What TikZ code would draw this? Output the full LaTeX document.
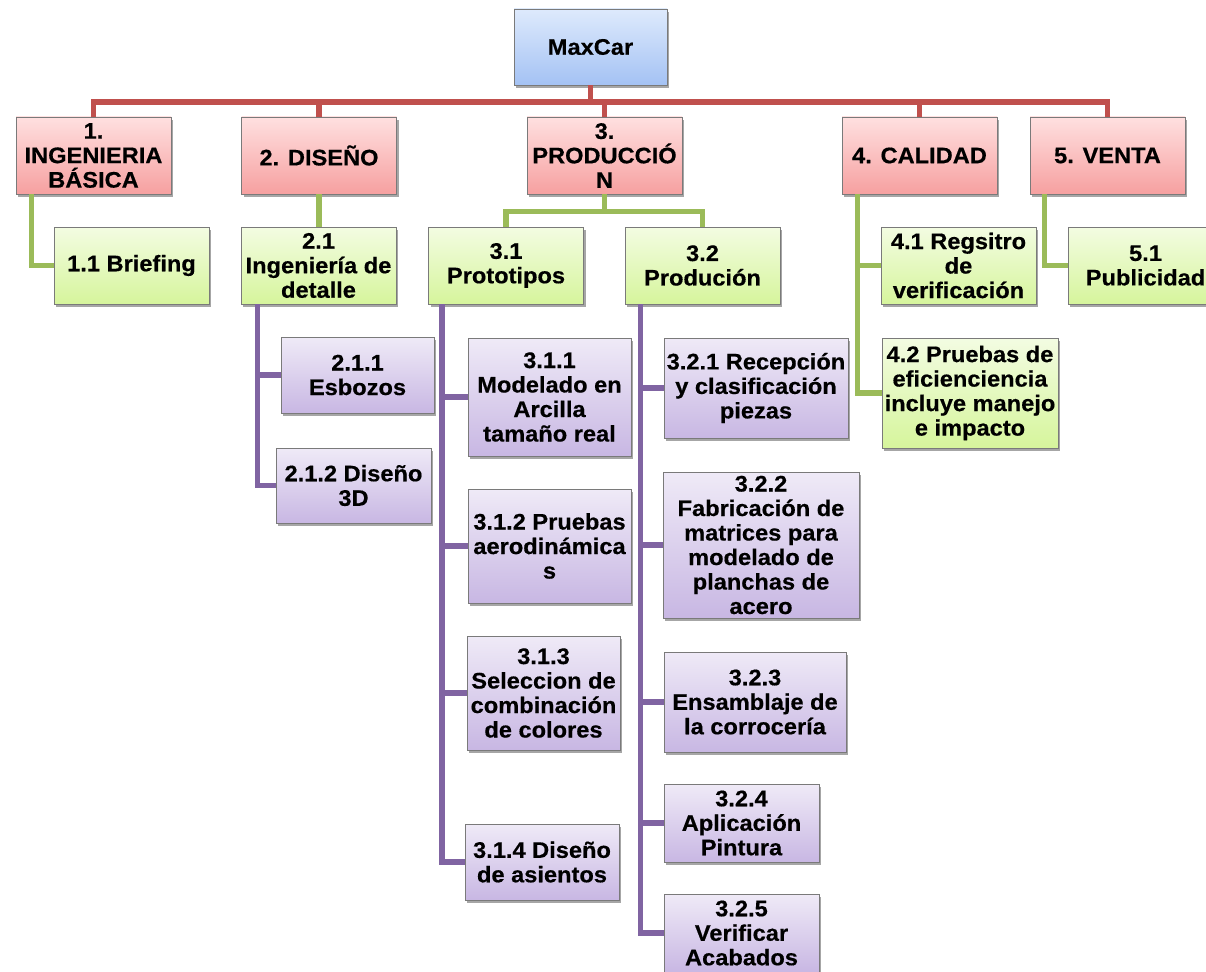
\documentclass[tikz,border=0pt]{standalone}
\usepackage{fontspec}
\setmainfont{Liberation Sans}[FakeStretch=1.05, BoldFeatures={FakeBold=0.5}]
\usetikzlibrary{shadows}
\definecolor{redln}{HTML}{C0504D}
\definecolor{greenln}{HTML}{9BBB59}
\definecolor{purpleln}{HTML}{8064A2}
\definecolor{redtop}{HTML}{FFE0E0}
\definecolor{redbot}{HTML}{F6A0A0}
\definecolor{greentop}{HTML}{F3FCE2}
\definecolor{greenbot}{HTML}{D6F59C}
\definecolor{purtop}{HTML}{EFEAF7}
\definecolor{purbot}{HTML}{C8B7E3}
\definecolor{bluetop}{HTML}{DEEAFC}
\definecolor{bluebot}{HTML}{A4C2F4}
\definecolor{boxedge}{HTML}{7A7A7A}
\tikzset{
  box/.style={rectangle, draw=boxedge, line width=0.8pt, inner sep=0pt, align=center,
    font=\fontsize{22.5}{24.5}\selectfont\bfseries,
    drop shadow={shadow xshift=2pt, shadow yshift=-3pt, opacity=0.35, fill=black}},
  bluebox/.style={box, top color=bluetop, bottom color=bluebot},
  redbox/.style={box, top color=redtop, bottom color=redbot},
  greenbox/.style={box, top color=greentop, bottom color=greenbot},
  purbox/.style={box, top color=purtop, bottom color=purbot},
  redline/.style={draw=redln, line width=5.5pt},
  greenline/.style={draw=greenln, line width=5.5pt},
  purline/.style={draw=purpleln, line width=5.5pt},
}
\begin{document}
\begin{tikzpicture}[x=1pt,y=-1pt]
\useasboundingbox (0,0) rectangle (1206,971);
\clip (0,0) rectangle (1206,971);
\fill[white] (0,0) rectangle (1206,971);

% root
\node[bluebox, minimum width=153pt, minimum height=76pt] (root) at (590.5,47) {MaxCar};

% level 1
\node[redbox, minimum width=155pt, minimum height=77pt] (n1) at (93.5,155.5) {1.\\INGENIERIA\\BÁSICA};
\node[redbox, minimum width=155pt, minimum height=77pt] (n2) at (319,155.5) {2. DISEÑO};
\node[redbox, minimum width=155pt, minimum height=77pt] (n3) at (604.5,155.5) {3.\\PRODUCCIÓ\\N};
\node[redbox, minimum width=155pt, minimum height=77pt] (n4) at (919.5,155.5) {4. CALIDAD};
\node[redbox, minimum width=155pt, minimum height=77pt] (n5) at (1107.5,155.5) {5. VENTA};

% level 2
\node[greenbox, minimum width=155pt, minimum height=77pt] (n11) at (131.5,265.5) {1.1 Briefing};
\node[greenbox, minimum width=155pt, minimum height=77pt] (n21) at (318.5,265.5) {2.1\\Ingeniería de\\detalle};
\node[greenbox, minimum width=155pt, minimum height=77pt] (n31) at (506,265.5) {3.1\\Prototipos};
\node[greenbox, minimum width=155pt, minimum height=77pt] (n32) at (702.5,265.5) {3.2\\Produción};
\node[greenbox, minimum width=155pt, minimum height=77pt] (n41) at (958.5,265.5) {4.1 Regsitro\\de\\verificación};
\node[greenbox, minimum width=176pt, minimum height=110pt] (n42) at (970,393) {4.2 Pruebas de\\eficienciencia\\incluye manejo\\e impacto};
\node[greenbox, minimum width=155pt, minimum height=77pt] (n51) at (1145.5,265.5) {5.1\\Publicidad};

% level 3
\node[purbox, minimum width=153pt, minimum height=76pt] (n211) at (357.5,375) {2.1.1\\Esbozos};
\node[purbox, minimum width=155pt, minimum height=75pt] (n212) at (353.5,485.5) {2.1.2 Diseño\\3D};
\node[purbox, minimum width=163pt, minimum height=118pt] (n311) at (549.5,397) {3.1.1\\Modelado en\\Arcilla\\tamaño real};
\node[purbox, minimum width=163pt, minimum height=114pt] (n312) at (549.5,546) {3.1.2 Pruebas\\aerodinámica\\s};
\node[purbox, minimum width=153pt, minimum height=114pt] (n313) at (543.5,693) {3.1.3\\Seleccion de\\combinación\\de colores};
\node[purbox, minimum width=154pt, minimum height=76pt] (n314) at (542,862) {3.1.4 Diseño\\de asientos};
\node[purbox, minimum width=184pt, minimum height=100pt] (n321) at (756,388) {3.2.1 Recepción\\y clasificación\\piezas};
\node[purbox, minimum width=196pt, minimum height=146pt] (n322) at (761,545) {3.2.2\\Fabricación de\\matrices para\\modelado de\\planchas de\\acero};
\node[purbox, minimum width=182pt, minimum height=100pt] (n323) at (755,702) {3.2.3\\Ensamblaje de\\la corrocería};
\node[purbox, minimum width=155pt, minimum height=78pt] (n324) at (741.5,823) {3.2.4\\Aplicación\\Pintura};
\node[purbox, minimum width=155pt, minimum height=78pt] (n325) at (741.5,933) {3.2.5\\Verificar\\Acabados};

% red connectors
\coordinate (redbar) at (0,102);
\draw[redline] (root.south) -- (root.south |- redbar);
\draw[redline] (n1.north) |- (n5.north |- redbar) -- (n5.north);
\foreach \n in {n2,n3,n4} \draw[redline] (\n.north) -- (\n.north |- redbar);

% green connectors
\draw[greenline] ([xshift=16pt]n1.south west) |- (n11.west);
\draw[greenline] (n2.south) -- (n2.south |- n21.north);
\coordinate (gbar) at (0,211.5);
\draw[greenline] (n3.south) -- (n3.south |- gbar);
\draw[greenline] (n31.north) |- (n32.north |- gbar) -- (n32.north);
\coordinate (g4) at ([xshift=16pt]n4.south west);
\draw[greenline] (g4) |- (n42.west);
\draw[greenline] (g4 |- n41.west) -- (n41.west);
\draw[greenline] ([xshift=15pt]n5.south west) |- (n51.west);

% purple connectors
\coordinate (p21) at ([xshift=17pt]n21.south west);
\draw[purline] (p21) |- (n212.west);
\draw[purline] (p21 |- n211.west) -- (n211.west);
\coordinate (p31) at ([xshift=14pt]n31.south west);
\draw[purline] (p31) |- (n314.west);
\foreach \n in {n311,n312,n313} \draw[purline] (p31 |- \n.west) -- (\n.west);
\coordinate (p32) at ([xshift=16pt]n32.south west);
\draw[purline] (p32) |- (n325.west);
\foreach \n in {n321,n322,n323,n324} \draw[purline] (p32 |- \n.west) -- (\n.west);
\end{tikzpicture}
\end{document}
